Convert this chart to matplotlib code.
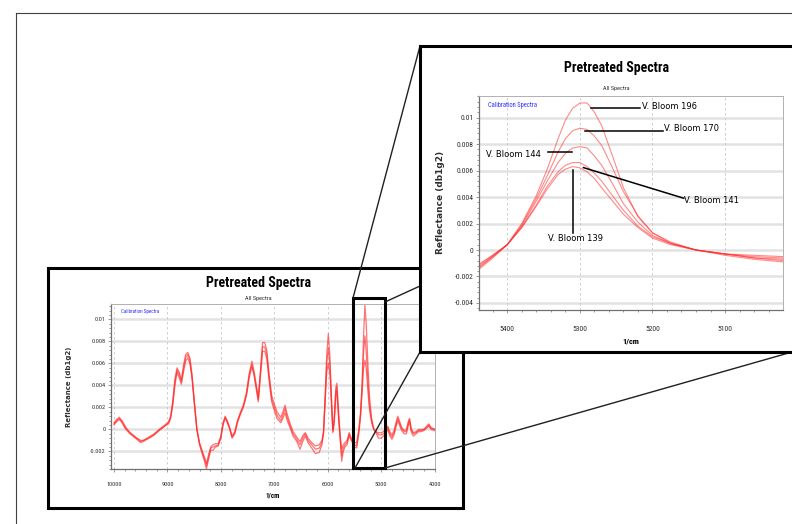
import matplotlib
matplotlib.use("Agg")
import matplotlib.pyplot as plt
from matplotlib import font_manager
from matplotlib.patches import Rectangle
from matplotlib.ticker import FixedLocator, AutoMinorLocator

# ---- data ----
# full range spectra (three envelopes of the calibration set)
full_x = [10000, 9950, 9900, 9850, 9780, 9700, 9600, 9500, 9450, 9350, 9250, 9150,
          9050, 8980, 8940, 8900, 8860, 8820, 8780, 8740, 8700, 8660, 8620, 8580,
          8540, 8500, 8450, 8400, 8340, 8300, 8270, 8230, 8190, 8150, 8100, 8050,
          8000, 7960, 7920, 7880, 7840, 7790, 7740, 7690, 7640, 7580, 7520, 7470,
          7420, 7380, 7340, 7300, 7260, 7220, 7180, 7140, 7100, 7050, 7000, 6950,
          6880, 6840, 6800, 6760, 6710, 6650, 6580, 6520, 6460, 6420, 6370, 6300,
          6230, 6160, 6110, 6080, 6050, 6020, 5990, 5960, 5930, 5905, 5880, 5850,
          5830, 5800, 5770, 5740, 5710, 5680, 5640, 5600, 5560, 5500, 5460, 5420,
          5390, 5360, 5330, 5305, 5280, 5250, 5220, 5180, 5140, 5100, 5050, 5000,
          4960, 4920, 4880, 4840, 4800, 4760, 4720, 4690, 4660, 4620, 4570, 4530,
          4490, 4470, 4440, 4400, 4350, 4300, 4250, 4200, 4150, 4110, 4070, 4000]
full_low = [0.0004, 0.0007, 0.0009, 0.0006, 0.0000, -0.0004, -0.0008, -0.0012, -0.0011, -0.0008, -0.0005, -0.0001,
            0.0003, 0.0005, 0.0010, 0.0022, 0.0040, 0.0052, 0.0047, 0.0041, 0.0052, 0.0062, 0.0065, 0.0060,
            0.0046, 0.0025, 0.0000, -0.0014, -0.0024, -0.0030, -0.0036, -0.0027, -0.0019, -0.0019, -0.0016, -0.0015,
            -0.0008, 0.0004, 0.0010, 0.0006, 0.0001, -0.0008, -0.0004, 0.0006, 0.0013, 0.0020, 0.0031, 0.0047,
            0.0057, 0.0049, 0.0037, 0.0025, 0.0048, 0.0071, 0.0071, 0.0064, 0.0045, 0.0025, 0.0017, 0.0010,
            0.0006, 0.0010, 0.0015, 0.0008, 0.0002, -0.0006, -0.0011, -0.0018, -0.0010, -0.0006, -0.0012, -0.0017,
            -0.0022, -0.0021, -0.0014, -0.0004, 0.0024, 0.0052, 0.0060, 0.0050, 0.0020, -0.0003, 0.0005, 0.0030,
            0.0035, 0.0010, -0.0008, -0.0029, -0.0020, -0.0016, -0.0014, -0.0006, -0.0010, -0.0016, -0.0017, -0.0004,
            0.0010, 0.0032, 0.0056, 0.0063, 0.0055, 0.0035, 0.0018, 0.0006, 0.0000, -0.0003, -0.0008, -0.0008,
            -0.0006, -0.0004, 0.0000, -0.0006, -0.0009, -0.0005, 0.0003, 0.0008, 0.0004, -0.0001, -0.0004, -0.0004,
            0.0004, 0.0007, -0.0002, -0.0006, -0.0004, -0.0002, -0.0002, -0.0001, 0.0001, 0.0003, 0.0000, -0.0001]
full_mid = [0.0005, 0.0008, 0.0010, 0.0007, 0.0001, -0.0003, -0.0007, -0.0011, -0.0010, -0.0008, -0.0005, 0.0000,
            0.0003, 0.0006, 0.0011, 0.0024, 0.0043, 0.0054, 0.0050, 0.0043, 0.0055, 0.0065, 0.0068, 0.0063,
            0.0048, 0.0026, 0.0000, -0.0013, -0.0022, -0.0028, -0.0033, -0.0025, -0.0017, -0.0016, -0.0015, -0.0014,
            -0.0007, 0.0005, 0.0011, 0.0007, 0.0002, -0.0007, -0.0003, 0.0007, 0.0014, 0.0021, 0.0032, 0.0049,
            0.0059, 0.0051, 0.0039, 0.0027, 0.0051, 0.0075, 0.0075, 0.0068, 0.0048, 0.0028, 0.0020, 0.0013,
            0.0008, 0.0013, 0.0019, 0.0011, 0.0004, -0.0004, -0.0009, -0.0014, -0.0007, -0.0004, -0.0010, -0.0014,
            -0.0018, -0.0017, -0.0012, -0.0003, 0.0027, 0.0060, 0.0074, 0.0058, 0.0024, -0.0002, 0.0008, 0.0034,
            0.0039, 0.0014, -0.0006, -0.0024, -0.0017, -0.0014, -0.0012, -0.0004, -0.0009, -0.0014, -0.0015, -0.0002,
            0.0012, 0.0036, 0.0070, 0.0085, 0.0070, 0.0045, 0.0022, 0.0008, 0.0000, -0.0002, -0.0005, -0.0005,
            -0.0004, -0.0002, 0.0002, -0.0004, -0.0007, -0.0003, 0.0005, 0.0010, 0.0006, 0.0001, -0.0002, -0.0002,
            0.0006, 0.0009, 0.0000, -0.0004, -0.0003, -0.0001, -0.0001, 0.0000, 0.0002, 0.0004, 0.0001, 0.0000]
full_high = [0.0006, 0.0009, 0.0011, 0.0008, 0.0002, -0.0003, -0.0007, -0.0010, -0.0010, -0.0007, -0.0004, 0.0000,
             0.0004, 0.0007, 0.0012, 0.0026, 0.0046, 0.0056, 0.0052, 0.0045, 0.0058, 0.0068, 0.0070, 0.0065,
             0.0050, 0.0027, 0.0001, -0.0012, -0.0021, -0.0026, -0.0031, -0.0023, -0.0016, -0.0014, -0.0013, -0.0013,
             -0.0006, 0.0006, 0.0012, 0.0008, 0.0002, -0.0006, -0.0002, 0.0008, 0.0015, 0.0022, 0.0034, 0.0051,
             0.0062, 0.0053, 0.0041, 0.0029, 0.0054, 0.0079, 0.0079, 0.0072, 0.0051, 0.0031, 0.0023, 0.0016,
             0.0011, 0.0016, 0.0022, 0.0014, 0.0006, -0.0002, -0.0007, -0.0011, -0.0005, -0.0003, -0.0008, -0.0012,
             -0.0015, -0.0014, -0.0010, -0.0002, 0.0030, 0.0068, 0.0087, 0.0066, 0.0028, 0.0000, 0.0010, 0.0038,
             0.0042, 0.0018, -0.0004, -0.0018, -0.0014, -0.0012, -0.0010, -0.0003, -0.0008, -0.0012, -0.0012, 0.0000,
             0.0014, 0.0040, 0.0086, 0.0113, 0.0095, 0.0060, 0.0030, 0.0010, 0.0001, -0.0002, -0.0003, -0.0003,
             -0.0002, 0.0000, 0.0003, -0.0002, -0.0005, -0.0001, 0.0007, 0.0012, 0.0008, 0.0002, -0.0001, 0.0000,
             0.0008, 0.0010, 0.0001, -0.0003, -0.0002, 0.0000, 0.0000, 0.0000, 0.0003, 0.0005, 0.0002, 0.0000]

# zoomed region, one curve per sample
zoom_x = [5440, 5420, 5400, 5380, 5360, 5345, 5330, 5320, 5310, 5300, 5290, 5280,
          5270, 5255, 5240, 5220, 5200, 5175, 5140, 5100, 5060, 5020]
bloom_196 = [-0.0011, -0.0004, 0.0004, 0.0020, 0.0041, 0.0061, 0.0084, 0.0098, 0.0107, 0.0111, 0.0111, 0.0104,
             0.0094, 0.0071, 0.0047, 0.0025, 0.0013, 0.0005, 0.0000, -0.0003, -0.0004, -0.0005]
bloom_170 = [-0.0012, -0.0004, 0.0004, 0.0019, 0.0039, 0.0056, 0.0074, 0.0084, 0.0090, 0.0092, 0.0091, 0.0086,
             0.0079, 0.0062, 0.0044, 0.0026, 0.0013, 0.0006, 0.0000, -0.0003, -0.0005, -0.0006]
bloom_144 = [-0.0013, -0.0005, 0.0004, 0.0018, 0.0037, 0.0052, 0.0066, 0.0073, 0.0077, 0.0078, 0.0077, 0.0071,
             0.0064, 0.0050, 0.0035, 0.0021, 0.0011, 0.0005, 0.0000, -0.0003, -0.0006, -0.0007]
bloom_141 = [-0.0014, -0.0005, 0.0004, 0.0017, 0.0034, 0.0048, 0.0059, 0.0064, 0.0066, 0.0066, 0.0063, 0.0058,
             0.0052, 0.0041, 0.0030, 0.0018, 0.0010, 0.0005, 0.0000, -0.0003, -0.0006, -0.0008]
bloom_139 = [-0.0015, -0.0006, 0.0004, 0.0017, 0.0033, 0.0046, 0.0057, 0.0061, 0.0063, 0.0062, 0.0059, 0.0054,
             0.0047, 0.0037, 0.0027, 0.0017, 0.0009, 0.0004, 0.0000, -0.0004, -0.0007, -0.0009]

yticks_full = [-0.002, 0, 0.002, 0.004, 0.006, 0.008, 0.01]
yticks_zoom = [-0.004, -0.002, 0, 0.002, 0.004, 0.006, 0.008, 0.01]
ytick_labels = {-0.004: '-0.004', -0.002: '-0.002', 0: '0', 0.002: '0.002', 0.004: '0.004',
                0.006: '0.006', 0.008: '0.008', 0.01: '0.01'}
xticks_full = [10000, 9000, 8000, 7000, 6000, 5000, 4000]
xticks_zoom = [5400, 5300, 5200, 5100]

# pick a narrow face if one is installed
installed = {f.name for f in font_manager.fontManager.ttflist}
narrow_name = next((n for n in ['Liberation Sans Narrow', 'Roboto Condensed',
                                'DejaVu Sans Condensed', 'Open Sans Condensed']
                    if n in installed), None)
if narrow_name:
    NARROW = [narrow_name, 'DejaVu Sans']
    TITLE_FS = 10
else:
    NARROW = ['Roboto', 'DejaVu Sans']
    TITLE_FS = 8.5
RED = '#ff2a2a'
W, H = 792, 524

fig = plt.figure(figsize=(W / 100, H / 100), dpi=100)
fig.patch.set_facecolor('white')


def px_axes(l, t, r, b, z):
    a = fig.add_axes([l / W, 1 - b / H, (r - l) / W, (b - t) / H])
    a.set_zorder(z)
    return a


def overlay(z):
    a = fig.add_axes([0, 0, 1, 1])
    a.set_xlim(0, W)
    a.set_ylim(H, 0)
    a.axis('off')
    a.patch.set_alpha(0)
    a.set_zorder(z)
    return a


def style_spectra(ax, yticks, xticks, fs, ylab_fs, ylab_pad, xpad, xlab_pad):
    ax.set_facecolor('white')
    for s in ['top', 'right']:
        ax.spines[s].set_color('#b0b0b0')
        ax.spines[s].set_linewidth(0.7)
    for s in ['left', 'bottom']:
        ax.spines[s].set_color('#707070')
        ax.spines[s].set_linewidth(0.9)
    ax.yaxis.set_major_locator(FixedLocator(yticks))
    ax.set_yticklabels([ytick_labels[v] for v in yticks])
    ax.xaxis.set_major_locator(FixedLocator(xticks))
    ax.set_xticklabels([str(v) for v in xticks])
    ax.xaxis.set_minor_locator(AutoMinorLocator(5))
    ax.yaxis.set_minor_locator(AutoMinorLocator(5))
    ax.tick_params(which='both', direction='out', colors='#707070',
                   labelcolor='#303030', labelsize=fs, width=0.5)
    ax.tick_params(which='major', length=2.5, pad=1.5)
    ax.tick_params(which='minor', length=1.5)
    ax.tick_params(axis='x', which='major', pad=xpad)
    for lab in ax.get_xticklabels() + ax.get_yticklabels():
        lab.set_family(NARROW)
    for v in yticks:
        ax.axhline(v, color='#e2e2e2', lw=1.8, zorder=0)
    for v in xticks:
        ax.axvline(v, color='#c8c8c8', lw=0.6, ls=(0, (3, 3)), zorder=0)
    ax.set_xlabel('1/cm', family=NARROW, fontweight='bold', fontsize=fs + 0.5,
                  labelpad=xlab_pad)
    ax.set_ylabel('Reflectance (db1g2)', fontweight='bold', fontsize=ylab_fs,
                  color='#303030', labelpad=ylab_pad)
    ax.text(0.03, 0.955, 'Calibration Spectra', transform=ax.transAxes,
            family=NARROW, fontsize=fs - 0.8, color='#3030ff', va='center')


# outer frame
bg = overlay(0)
bg.plot([16, W], [13, 13], color='#404040', lw=0.8)
bg.plot([16, 16], [13, H], color='#404040', lw=0.8)
bg.add_patch(Rectangle((48, 268), 415, 240, facecolor='white',
                       edgecolor='black', lw=2.2))

# small full range panel
ax_s = px_axes(111, 304, 435, 469, 1)
for ys in [full_low, full_mid, full_high]:
    ax_s.plot(full_x, ys, color=RED, lw=0.9, alpha=0.65)
ax_s.set_xlim(10056, 3994)
ax_s.set_ylim(-0.0036, 0.0114)
style_spectra(ax_s, yticks_full, xticks_full, 4.5, 5, 13, 7, 3)
fig.text(258 / W, 1 - 283 / H, 'Pretreated Spectra', family=NARROW,
         fontweight='bold', fontsize=TITLE_FS, ha='center', va='center')
fig.text(258 / W, 1 - 298.5 / H, 'All Spectra', family=NARROW, fontsize=4.5,
         ha='center', va='center', color='#303030')

# zoom rectangle and connector lines
mid = overlay(2)
mid.add_patch(Rectangle((353, 298), 32, 170, facecolor='none',
                        edgecolor='black', lw=2.2))
mid.plot([353, 420], [298, 46], color='#202020', lw=1.0)
mid.plot([385, 420], [302, 286], color='#202020', lw=1.0)
mid.plot([355, 420], [468, 352], color='#202020', lw=1.0)
mid.plot([385, W], [468, 352], color='#202020', lw=1.0)

# big zoomed panel
top = overlay(3)
top.add_patch(Rectangle((420, 46), 400, 306, facecolor='white',
                        edgecolor='black', lw=2.2))
ax_b = px_axes(479.3, 95.7, 782.7, 310, 4)
for ys in [bloom_196, bloom_170, bloom_144, bloom_141, bloom_139]:
    ax_b.plot(zoom_x, ys, color=RED, lw=0.8, alpha=0.55)
ax_b.set_xlim(5438.5, 5020.6)
ax_b.set_ylim(-0.00453, 0.01165)
style_spectra(ax_b, yticks_zoom, xticks_zoom, 5.5, 6.5, 7, 9, 4)
fig.text(616.7 / W, 1 - 67.7 / H, 'Pretreated Spectra', family=NARROW,
         fontweight='bold', fontsize=TITLE_FS, ha='center', va='center')
fig.text(616.7 / W, 1 - 88 / H, 'All Spectra', family=NARROW, fontsize=4.5,
         ha='center', va='center', color='#303030')

# sample labels
lab_kw = dict(fontsize=6, color='black', va='center')
ax_b.plot([5284, 5217], [0.01074, 0.01074], color='black', lw=1.1)
ax_b.text(5215, 0.0108, 'V. Bloom 196', ha='left', **lab_kw)
ax_b.plot([5293, 5186], [0.00899, 0.00899], color='black', lw=1.1)
ax_b.text(5184, 0.0092, 'V. Bloom 170', ha='left', **lab_kw)
ax_b.plot([5344, 5311], [0.00738, 0.00738], color='black', lw=1.1)
ax_b.text(5353, 0.0072, 'V. Bloom 144', ha='right', **lab_kw)
ax_b.plot([5295, 5157], [0.00622, 0.00391], color='black', lw=1.1)
ax_b.text(5156, 0.00373, 'V. Bloom 141', ha='left', **lab_kw)
ax_b.plot([5309, 5309], [0.00604, 0.00129], color='black', lw=1.1)
ax_b.text(5306, 0.0009, 'V. Bloom 139', ha='center', **lab_kw)

fig.savefig('out.png', dpi=100)
